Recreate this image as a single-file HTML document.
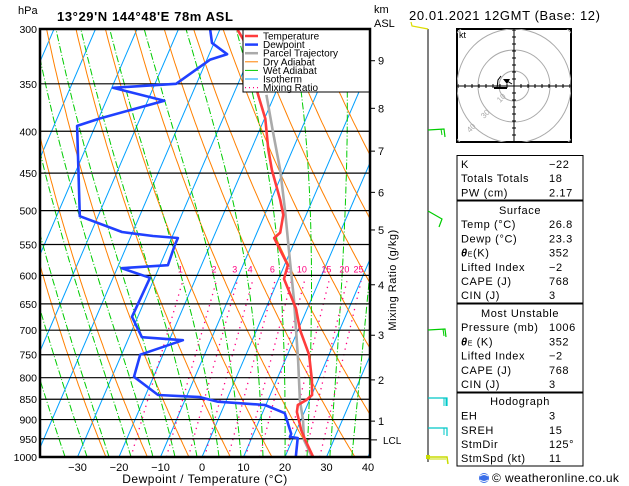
<!DOCTYPE html>
<html><head><meta charset="utf-8"><style>
html,body{margin:0;padding:0;background:#fff;}
body{width:629px;height:486px;overflow:hidden;font-family:"Liberation Sans",sans-serif;}
svg{display:block;}
text{font-family:"Liberation Sans",sans-serif;}
</style></head><body>
<svg id="chart" width="629" height="486" viewBox="0 0 629 486" xmlns="http://www.w3.org/2000/svg">
<defs><clipPath id="plotclip"><rect x="40" y="29" width="330" height="428"/></clipPath>
<clipPath id="hodoclip"><rect x="457" y="29" width="114" height="113"/></clipPath></defs>
<text x="18" y="14" font-size="11">hPa</text>
<text x="57" y="21" font-size="13" font-weight="bold" letter-spacing="0.6">13°29'N 144°48'E 78m ASL</text>
<text x="374" y="13" font-size="11">km</text>
<text x="374" y="27" font-size="11">ASL</text>
<text x="409" y="20" font-size="13" letter-spacing="0.6">20.01.2021 12GMT (Base: 12)</text>
<g id="bg" clip-path="url(#plotclip)"></g>
<g id="isobars"></g>
<g id="traces" clip-path="url(#plotclip)"></g>
<g id="legend">
<rect x="243" y="29" width="127" height="63" fill="#fff" stroke="#000" stroke-width="1"/>
<line x1="245" y1="36" x2="258" y2="36" stroke="#ff3c3c" stroke-width="2.5"/><text x="263" y="39.5" font-size="10">Temperature</text>
<line x1="245" y1="44.6" x2="258" y2="44.6" stroke="#2040ff" stroke-width="2.5"/><text x="263" y="48.1" font-size="10">Dewpoint</text>
<line x1="245" y1="53.2" x2="258" y2="53.2" stroke="#aaa" stroke-width="2.5"/><text x="263" y="56.7" font-size="10">Parcel Trajectory</text>
<line x1="245" y1="61.8" x2="258" y2="61.8" stroke="#ff8000" stroke-width="1"/><text x="263" y="65.3" font-size="10">Dry Adiabat</text>
<line x1="245" y1="70.4" x2="258" y2="70.4" stroke="#00cc00" stroke-width="1"/><text x="263" y="73.9" font-size="10">Wet Adiabat</text>
<line x1="245" y1="79" x2="258" y2="79" stroke="#00a0ff" stroke-width="1"/><text x="263" y="82.5" font-size="10">Isotherm</text>
<line x1="245" y1="87.6" x2="258" y2="87.6" stroke="#ff0080" stroke-width="1.2" stroke-dasharray="1,3"/><text x="263" y="91.1" font-size="10">Mixing Ratio</text>
</g>
<g id="axes"></g>
<text x="205" y="483" font-size="12" text-anchor="middle" letter-spacing="0.5">Dewpoint / Temperature (°C)</text>
<text transform="translate(396,280) rotate(-90)" font-size="11" text-anchor="middle" letter-spacing="0.5">Mixing Ratio (g/kg)</text>
<g id="winds">
<line x1="428" y1="29" x2="428" y2="462" stroke="#000" stroke-width="1"/>
<polyline points="428,29 412,26 411,22" fill="none" stroke="#dddd00" stroke-width="1.2"/>
<polyline points="428,130 444,129 445,137" fill="none" stroke="#00cc00" stroke-width="1.2"/><line x1="441" y1="129" x2="442" y2="135" stroke="#00cc00"/>
<polyline points="428,211 442,219 439,227" fill="none" stroke="#00cc00" stroke-width="1.2"/>
<polyline points="428,330 445,329 446,337" fill="none" stroke="#00cc00" stroke-width="1.2"/><line x1="443" y1="329" x2="444" y2="336" stroke="#00cc00"/>
<polyline points="428,398 447,398 447,406" fill="none" stroke="#00c8c8" stroke-width="1.2"/><line x1="444" y1="398" x2="444" y2="406" stroke="#00c8c8"/><line x1="446" y1="398" x2="446" y2="406" stroke="#00c8c8"/>
<polyline points="428,428 447,428 447,436" fill="none" stroke="#00c8c8" stroke-width="1.2"/><line x1="444" y1="428" x2="444" y2="435" stroke="#00c8c8"/>
<polyline points="428,457 447,457 448,464" fill="none" stroke="#c8dc00" stroke-width="1.5"/><line x1="428" y1="459" x2="446" y2="459" stroke="#c8dc00"/>
<rect x="426" y="455" width="4" height="4" fill="#c8dc00"/>
</g>
<g id="hodo">
<rect x="457" y="29" width="114" height="113" fill="#fff" stroke="#000" stroke-width="2"/>
<g clip-path="url(#hodoclip)" fill="none" stroke="#aaa" stroke-width="1">
<circle cx="514" cy="86" r="15"/><circle cx="514" cy="86" r="36"/><circle cx="514" cy="86" r="57"/><circle cx="514" cy="86" r="78"/>
</g>
<text x="459" y="38" font-size="9">kt</text>
<text x="500" y="103" font-size="8" fill="#aaa" transform="rotate(-45 500 103)">10</text>
<text x="484" y="119" font-size="8" fill="#aaa" transform="rotate(-45 484 119)">30</text>
<text x="470" y="133" font-size="8" fill="#aaa" transform="rotate(-45 470 133)">40</text>
<g id="hodoticks" stroke="#000" stroke-width="1"></g>
<polyline points="494,88 507,88" stroke="#000" stroke-width="2" fill="none"/>
<polyline points="497,88 498,80 501,76" stroke="#000" stroke-width="1" fill="none"/>
<polygon points="503,79 510,79 507,84" fill="#000"/>
<line x1="507" y1="81" x2="512" y2="84" stroke="#000"/>
</g>
<g id="stats" font-size="11" letter-spacing="0.6">
<rect x="457" y="155.5" width="126" height="44.5" fill="none" stroke="#000"/>
<rect x="457" y="201" width="126" height="102" fill="none" stroke="#000"/>
<rect x="457" y="304" width="126" height="88" fill="none" stroke="#000"/>
<rect x="457" y="393" width="126" height="73" fill="none" stroke="#000"/>
<text x="461" y="168">K</text><text x="549" y="168">−22</text>
<text x="461" y="182">Totals Totals</text><text x="549" y="182">18</text>
<text x="461" y="196.5">PW (cm)</text><text x="549" y="196.5">2.17</text>
<text x="520" y="214" text-anchor="middle">Surface</text>
<text x="461" y="228">Temp (°C)</text><text x="549" y="228">26.8</text>
<text x="461" y="242.5">Dewp (°C)</text><text x="549" y="242.5">23.3</text>
<text x="461" y="256.5"><tspan font-weight="bold" font-style="italic">θ</tspan><tspan font-size="7">E</tspan>(K)</text><text x="549" y="256.5">352</text>
<text x="461" y="271">Lifted Index</text><text x="549" y="271">−2</text>
<text x="461" y="285">CAPE (J)</text><text x="549" y="285">768</text>
<text x="461" y="299">CIN (J)</text><text x="549" y="299">3</text>
<text x="520" y="317" text-anchor="middle">Most Unstable</text>
<text x="461" y="331">Pressure (mb)</text><text x="549" y="331">1006</text>
<text x="461" y="345.5"><tspan font-weight="bold" font-style="italic">θ</tspan><tspan font-size="7">E</tspan> (K)</text><text x="549" y="345.5">352</text>
<text x="461" y="359.5">Lifted Index</text><text x="549" y="359.5">−2</text>
<text x="461" y="374">CAPE (J)</text><text x="549" y="374">768</text>
<text x="461" y="388">CIN (J)</text><text x="549" y="388">3</text>
<text x="520" y="405" text-anchor="middle">Hodograph</text>
<text x="461" y="419.5">EH</text><text x="549" y="419.5">3</text>
<text x="461" y="434">SREH</text><text x="549" y="434">15</text>
<text x="461" y="448">StmDir</text><text x="549" y="448">125°</text>
<text x="461" y="462">StmSpd (kt)</text><text x="549" y="462">11</text>
</g>
<g>
<circle cx="484" cy="478" r="5" fill="#3a6ee8"/><path d="M480,476 q4,-3 8,0 M480,480 q4,3 8,0" stroke="#fff" stroke-width="1" fill="none"/>
<text x="492" y="482" font-size="12" letter-spacing="0.4">© weatheronline.co.uk</text>
</g>
</svg>
<script>
const pressureTicks=[300,350,400,450,500,550,600,650,700,750,800,850,900,950,1000];
const tempTicks=[-30,-20,-10,0,10,20,30,40];
const isothermValues=[-110,-100,-90,-80,-70,-60,-50,-40,-30,-20,-10,0,10,20,30,40];
const dryAdiabatThetas=[250,260,270,280,290,300,310,320,330,340,350,360,370,380,390,400,410,420,430,440,450,460];
const wetAdiabatStarts=[-33,-27.7,-22.4,-17.1,-11.8,-6.5,-1.2,4.1,9.4,14.7,20,25.3,30.8,36.1];
const mixingRatios=[1,2,3,4,6,8,10,15,20,25];
const tempP=[300,309,361,386,421,446,485,506,532,540,583,606,658,700,750,805,840,852,864,881,927,953,1000];
const tempT=[-35.9,-33.3,-24.0,-19.8,-15.9,-12.9,-7.8,-5.5,-4.4,-5.3,0.8,1.3,7.2,10.5,15.2,18.5,20.1,19.2,17.7,18.2,21.1,23.1,26.8];
const dewP=[300,312,322,327,350,354,367,386,394,508,531,537,540,551,583,588,604,674,714,720,750,798,840,845,856,864,884,937,945,948,1000];
const dewT=[-42.4,-40.5,-35.7,-39.2,-44.9,-59.7,-46.0,-59.8,-64.4,-54.4,-42.6,-34.7,-28.5,-28.5,-28.1,-38.9,-31.1,-31.4,-26.9,-16.7,-25.5,-24.7,-17.0,-6.7,-1.9,9.8,15.4,19.1,19.1,21.1,22.6];
const parcelP=[361,399,446,499,575,643,761,852,901,953,1000];
const parcelT=[-22.0,-16.8,-10.9,-5.6,0.8,5.9,13.1,17.7,20.5,22.8,26.5];
const kmLabels=["9","8","7","6","5","4","3","2","1"];
const kmPressures=[328,375,423,475,528,616,710,805,904];
const lclPressure=953;

const NS='http://www.w3.org/2000/svg';
const LN=Math.log(1000/300);
function yP(p){return 29+428*Math.log(p/300)/LN;}
function xT(T,p){return 202+4.15*T+0.43*(457-yP(p));}
function mk(tag,parent){const e=document.createElementNS(NS,tag);parent.appendChild(e);return e;}
function pts(arrP,arrT){return arrP.map((p,i)=>xT(arrT[i],p).toFixed(1)+','+yP(p).toFixed(1)).join(' ');}
const bg=document.getElementById('bg'),iso=document.getElementById('isobars'),tr=document.getElementById('traces'),ax=document.getElementById('axes');
const levels=[];for(let p=1000;p>=295;p-=5)levels.push(p);

isothermValues.forEach(T=>{const l=mk('line',bg);


l.setAttribute('x1',xT(T,1000));l.setAttribute('y1',yP(1000));l.setAttribute('x2',xT(T,300));l.setAttribute('y2',yP(300));l.setAttribute('stroke','#00a0ff');l.setAttribute('stroke-width','1');});

dryAdiabatThetas.forEach(th=>{const l=mk('polyline',bg);


l.setAttribute('points',levels.map(p=>xT(th*Math.pow(p/1000,0.286)-273.15,p).toFixed(1)+','+yP(p).toFixed(1)).join(' '));
l.setAttribute('fill','none');l.setAttribute('stroke','#ff8000');l.setAttribute('stroke-width','1');});

function es(T){return 6.112*Math.exp(17.67*T/(T+243.5));}
wetAdiabatStarts.forEach(T0=>{let T=T0;const s=[];
for(let p=1000;p>=300;p-=5){s.push(xT(T,p).toFixed(1)+','+yP(p).toFixed(1));
const Tk=T+273.15,e=es(T),rs=0.622*e/(p-e);
const d=(287*Tk+2.5e6*rs)/(p*(1004+2.5e6*2.5e6*rs*0.622/(287*Tk*Tk)));T-=d*5;}
const l=mk('polyline',bg);


l.setAttribute('points',s.join(' '));l.setAttribute('fill','none');l.setAttribute('stroke','#00cc00');l.setAttribute('stroke-width','1');l.setAttribute('stroke-dasharray','7,2,1,2');});

function tdFromW(w,p){const e=w*p/(622+w);const a=Math.log(e/6.112);return 243.5*a/(17.67-a);}
mixingRatios.forEach(w=>{const l=mk('line',bg);


l.setAttribute('x1',xT(tdFromW(w,1000),1000));l.setAttribute('y1',yP(1000));l.setAttribute('x2',xT(tdFromW(w,610),610));l.setAttribute('y2',yP(610));
l.setAttribute('stroke','#ff0080');l.setAttribute('stroke-width','1.3');l.setAttribute('stroke-dasharray','1.3,4.5');
const t=mk('text',bg);


t.setAttribute('x',xT(tdFromW(w,600),600)-4);t.setAttribute('y',yP(600)-3);t.setAttribute('font-size','9');t.setAttribute('fill','#ff0080');t.setAttribute('text-anchor','middle');t.textContent=w;});

pressureTicks.forEach(p=>{const l=mk('line',iso);


l.setAttribute('x1',40);l.setAttribute('x2',370);l.setAttribute('y1',yP(p));l.setAttribute('y2',yP(p));l.setAttribute('stroke','#000');l.setAttribute('stroke-width','1.2');
const t=mk('text',ax);


t.setAttribute('x',37);t.setAttribute('y',yP(p)+4);t.setAttribute('font-size','10.5');t.setAttribute('text-anchor','end');t.textContent=p;});

function trace(P,Tv,color,w,name){const l=mk('polyline',tr);


l.setAttribute('points',pts(P,Tv));l.setAttribute('fill','none');l.setAttribute('stroke',color);l.setAttribute('stroke-width',w);l.setAttribute('stroke-linejoin','round');}
trace(parcelP,parcelT,'#aaaaaa','2.6','parcel-trajectory');
trace(tempP,tempT,'#ff3c3c','2.6','temperature-line');
trace(dewP,dewT,'#2040ff','2.6','dewpoint-line');

tempTicks.forEach(T=>{const t=mk('text',ax);


t.setAttribute('x',202+4.15*T);t.setAttribute('y',471);t.setAttribute('font-size','11');t.setAttribute('text-anchor','middle');t.textContent=(T<0?'−'+(-T):T);});

kmLabels.forEach((k,i)=>{const y=yP(kmPressures[i]);const l=mk('line',ax);


l.setAttribute('x1',370);l.setAttribute('x2',375);l.setAttribute('y1',y);l.setAttribute('y2',y);l.setAttribute('stroke','#000');
const t=mk('text',ax);


t.setAttribute('x',378);t.setAttribute('y',y+4);t.setAttribute('font-size','11');t.textContent=k;});
{const y=yP(lclPressure);const l=mk('line',ax);


l.setAttribute('x1',370);l.setAttribute('x2',377);l.setAttribute('y1',y);l.setAttribute('y2',y);l.setAttribute('stroke','#000');
const t=mk('text',ax);


t.setAttribute('x',383);t.setAttribute('y',y+4);t.setAttribute('font-size','10');t.textContent='LCL';}

const fr=mk('path',ax);


fr.setAttribute('d','M40,29 H370 V457 H40 Z');fr.setAttribute('fill','none');fr.setAttribute('stroke','#000');fr.setAttribute('stroke-width','2.5');

const ht=document.getElementById('hodoticks');
for(let i=-8;i<=8;i++){if(i===0)continue;
const a=mk('line',ht);


a.setAttribute('x1',514+i*7);a.setAttribute('x2',514+i*7);a.setAttribute('y1',84);a.setAttribute('y2',88);
const b=mk('line',ht);


b.setAttribute('y1',86+i*7);b.setAttribute('y2',86+i*7);b.setAttribute('x1',512);b.setAttribute('x2',516);}
const hx=mk('line',ht);


hx.setAttribute('x1',457);hx.setAttribute('x2',571);hx.setAttribute('y1',86);hx.setAttribute('y2',86);
const hy=mk('line',ht);


hy.setAttribute('x1',514);hy.setAttribute('x2',514);hy.setAttribute('y1',29);hy.setAttribute('y2',142);
</script>
</body></html>
